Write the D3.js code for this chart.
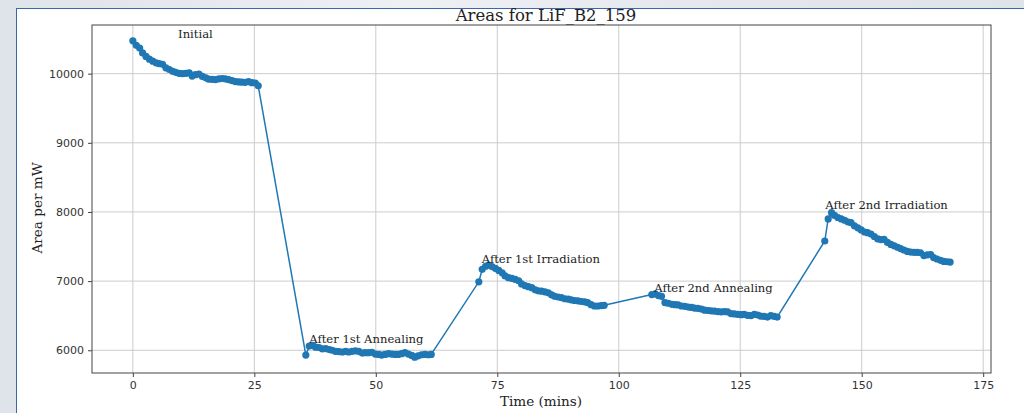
<!DOCTYPE html>
<html><head><meta charset="utf-8">
<script src="https://cdn.jsdelivr.net/npm/d3@7"></script>
<style>
html,body{margin:0;padding:0;background:#dfe3ea;}
#wrap{position:absolute;left:0;top:0;width:1024px;height:413px;overflow:hidden;
 background:linear-gradient(90deg,#dfe3ea 0%,#e6e9ef 20%,#eef0f4 40%,#e4e7ed 70%,#dfe3ea 100%);}
#panel{position:absolute;left:16px;top:8px;width:1100px;height:500px;background:#fff;
 border-left:1px solid #3a68a8;border-top:1px solid #3a68a8;}
svg{position:absolute;left:0;top:0;}
</style></head>
<body><div id="wrap"><div id="panel"></div><svg id="chart" width="1024" height="413"></svg></div>
<script>
// ---- data ----
const title = "Areas for LiF_B2_159";
const xLabel = "Time (mins)";
const yLabel = "Area per mW";
const xTicks = [0, 25, 50, 75, 100, 125, 150, 175];
const yTicks = [6000, 7000, 8000, 9000, 10000];

const timeInitial = [0,0.7,1.4,2.0,2.7,3.4,4.1,4.8,5.4,6.1,6.8,7.5,8.2,8.8,9.5,10.2,10.9,11.6,12.2,12.9,13.6,14.3,15.0,15.6,16.3,17.0,17.7,18.4,19.0,19.7,20.4,21.1,21.8,22.4,23.1,23.8,24.5,25.2,25.8];
const areaInitial = [10475,10410,10370,10300,10250,10210,10180,10155,10145,10135,10085,10060,10035,10020,10005,10000,10005,10010,9965,9985,9995,9960,9940,9920,9918,9915,9925,9930,9925,9915,9900,9885,9880,9878,9875,9885,9870,9865,9825];

const timeAnneal1 = [35.6,36.3,37.0,37.6,38.3,39.0,39.7,40.4,41.0,41.7,42.4,43.1,43.8,44.4,45.1,45.8,46.5,47.2,47.8,48.5,49.2,49.9,50.6,51.2,51.9,52.6,53.3,54.0,54.6,55.3,56.0,56.7,57.4,58.0,58.7,59.4,60.1,60.8,61.4];
const areaAnneal1 = [5930,6060,6070,6045,6040,6020,6025,6010,6000,5985,5980,5975,5985,5975,5985,5990,5985,5960,5965,5965,5970,5945,5940,5930,5940,5950,5945,5940,5940,5950,5965,5945,5925,5900,5920,5935,5940,5935,5940];

const timeIrrad1 = [71.2,71.9,72.6,73.2,73.9,74.6,75.3,76.0,76.6,77.3,78.0,78.7,79.4,80.0,80.7,81.4,82.1,82.8,83.4,84.1,84.8,85.5,86.2,86.8,87.5,88.2,88.9,89.6,90.2,90.9,91.6,92.3,93.0,93.6,94.3,95.0,95.7,96.4,97.0];
const areaIrrad1 = [6990,7170,7215,7230,7210,7185,7155,7120,7075,7050,7040,7025,7005,6960,6935,6920,6905,6875,6860,6855,6845,6830,6800,6780,6770,6760,6745,6740,6730,6720,6715,6705,6700,6690,6660,6640,6640,6645,6650];

const timeAnneal2 = [106.8,107.5,108.2,108.8,109.5,110.2,110.9,111.6,112.2,112.9,113.6,114.3,115.0,115.6,116.3,117.0,117.7,118.4,119.0,119.7,120.4,121.1,121.8,122.4,123.1,123.8,124.5,125.2,125.8,126.5,127.2,127.9,128.6,129.2,129.9,130.6,131.3,132.0,132.6];
const areaAnneal2 = [6805,6815,6790,6780,6690,6680,6665,6660,6655,6640,6635,6625,6620,6610,6605,6595,6580,6575,6570,6565,6560,6555,6560,6555,6530,6525,6520,6515,6520,6505,6500,6520,6510,6495,6490,6480,6500,6490,6480];

const timeIrrad2 = [142.4,143.1,143.8,144.4,145.1,145.8,146.5,147.2,147.8,148.5,149.2,149.9,150.6,151.2,151.9,152.6,153.3,154.0,154.6,155.3,156.0,156.7,157.4,158.0,158.7,159.4,160.1,160.8,161.4,162.1,162.8,163.5,164.2,164.8,165.5,166.2,166.9,167.6,168.2];
const areaIrrad2 = [7580,7900,7990,7950,7920,7900,7880,7855,7845,7800,7770,7740,7710,7700,7680,7645,7610,7600,7605,7560,7530,7510,7490,7470,7450,7430,7420,7415,7415,7410,7370,7380,7385,7340,7320,7300,7285,7280,7275];

const annLabels = ["Initial","After 1st Annealing","After 1st Irradiation","After 2nd Annealing","After 2nd Irradiation"];
const annX = [9.3, 36.3, 71.8, 107.3, 142.5];
const annY = [10510, 6100, 7265, 6840, 8040];

// ---- build ----
const times = [].concat(timeInitial, timeAnneal1, timeIrrad1, timeAnneal2, timeIrrad2);
const areas = [].concat(areaInitial, areaAnneal1, areaIrrad1, areaAnneal2, areaIrrad2);
const pts = times.map((t,i)=>({t, a: areas[i]}));

const L = 92, R = 991, T = 25, B = 373;
const svg = d3.select("#chart");
const [tx0, tx1] = d3.extent(times), [ay0, ay1] = d3.extent(areas);
const mx = (tx1-tx0)*0.05, my = (ay1-ay0)*0.05;
const x = d3.scaleLinear().domain([tx0-mx, tx1+mx]).range([L, R]);
const y = d3.scaleLinear().domain([ay0-my, ay1+my]).range([B, T]);

// grid
const g = svg.append("g");
g.selectAll("line.gx").data(xTicks).join("line")
  .attr("x1", d=>x(d)).attr("x2", d=>x(d)).attr("y1", T).attr("y2", B)
  .attr("stroke", "#cccccc").attr("stroke-width", 1);
g.selectAll("line.gy").data(yTicks).join("line")
  .attr("y1", d=>y(d)).attr("y2", d=>y(d)).attr("x1", L).attr("x2", R)
  .attr("stroke", "#cccccc").attr("stroke-width", 1);

// axes
const xAxis = svg.append("g").attr("transform", `translate(0,${B})`)
  .call(d3.axisBottom(x).tickValues(xTicks).tickSize(4).tickPadding(4).tickFormat(d3.format("d")));
const yAxis = svg.append("g").attr("transform", `translate(${L},0)`)
  .call(d3.axisLeft(y).tickValues(yTicks).tickSize(4).tickPadding(4).tickFormat(d3.format("d")));
[xAxis, yAxis].forEach(a=>{
  a.select(".domain").remove();
  a.selectAll(".tick line").attr("stroke", "#444");
  a.selectAll(".tick text").attr("fill", "#333").style("font-family", "'DejaVu Sans', sans-serif").style("font-size", "11px");
});

// frame
svg.append("rect").attr("x", L).attr("y", T).attr("width", R-L).attr("height", B-T)
  .attr("fill", "none").attr("stroke", "#444").attr("stroke-width", 1);

// line + points
const color = "#1f77b4";
svg.append("path").datum(pts)
  .attr("d", d3.line().x(d=>x(d.t)).y(d=>y(d.a)))
  .attr("fill", "none").attr("stroke", color).attr("stroke-width", 1.5);
svg.append("g").selectAll("circle").data(pts).join("circle")
  .attr("cx", d=>x(d.t)).attr("cy", d=>y(d.a)).attr("r", 3.6).attr("fill", color);

// annotations
svg.append("g").selectAll("text").data(annLabels).join("text")
  .attr("x", (d,i)=>x(annX[i])).attr("y", (d,i)=>y(annY[i]))
  .text(d=>d).attr("fill", "#222")
  .style("font-family", "'DejaVu Serif', serif").style("font-size", "11.6px");

// title and labels
svg.append("text").attr("x", 546).attr("y", 21).attr("text-anchor", "middle")
  .text(title).attr("fill", "#222").style("font-family", "'DejaVu Serif', serif").style("font-size", "16.5px");
svg.append("text").attr("x", 541).attr("y", 406).attr("text-anchor", "middle")
  .text(xLabel).attr("fill", "#222").style("font-family", "'DejaVu Serif', serif").style("font-size", "13.6px");
svg.append("text").attr("transform", `translate(42,208) rotate(-90)`).attr("text-anchor", "middle")
  .text(yLabel).attr("fill", "#222").style("font-family", "'DejaVu Serif', serif").style("font-size", "13.6px");
</script></body></html>
